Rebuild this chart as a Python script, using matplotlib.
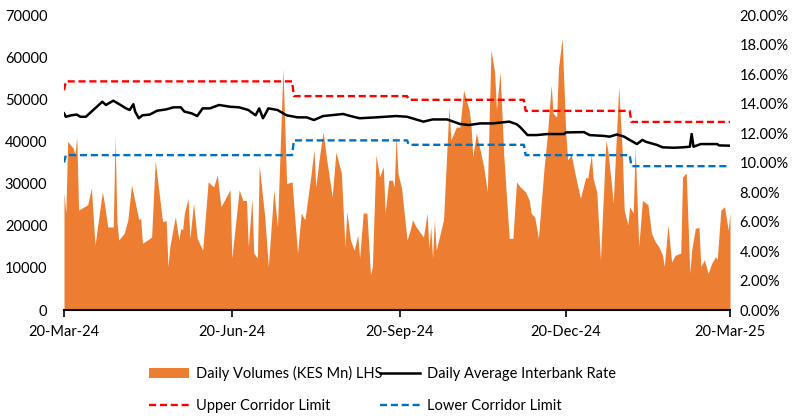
import matplotlib
matplotlib.use("Agg")
import matplotlib.pyplot as plt
import matplotlib.dates as mdates
from matplotlib.ticker import FuncFormatter
import pandas as pd

plt.rcParams['font.family'] = ['Lato', 'DejaVu Sans']

start = pd.Timestamp('2024-03-20')

# daily volumes (KES Mn), day offsets from 20-Mar-24
vol_days = [0, 1, 2, 5, 6, 7, 8, 13, 15, 17, 21, 22, 24, 27, 28, 29, 30, 33, 35, 37,
            41, 42, 43, 48, 50, 54, 56, 57, 58, 61, 63, 64, 65, 66, 68, 69, 71, 73, 76, 79,
            82, 84, 86, 91, 92, 96, 98, 100, 101, 103, 104, 106, 107, 110, 112, 115, 117, 120, 122, 125,
            126, 128, 130, 132, 135, 137, 138, 140, 142, 144, 147, 149, 152, 154, 155, 157, 159, 161, 162, 164,
            166, 168, 169, 171, 173, 175, 176, 178, 180, 181, 182, 183, 185, 188, 190, 191, 193, 197, 199, 200,
            201, 202, 203, 204, 208, 211, 212, 215, 217, 219, 222, 223, 224, 226, 228, 230, 232, 234, 236, 237,
            239, 241, 244, 246, 248, 250, 253, 255, 256, 258, 260, 263, 265, 267, 268, 270, 271, 273, 275, 276,
            278, 280, 283, 286, 287, 289, 290, 292, 294, 295, 297, 298, 300, 301, 304, 306, 307, 309, 310, 312,
            313, 315, 317, 320, 322, 324, 326, 328, 329, 331, 333, 335, 338, 339, 341, 343, 344, 346, 348, 349,
            351, 353, 355, 357, 358, 360, 362, 364, 365]
volumes = [27700, 23000, 40000, 38400, 37000, 41000, 23700, 25000, 29000, 15400, 28000, 25700, 19700, 19700, 41300, 21000, 16600, 18200, 21400, 29700,
           21400, 21800, 15800, 17300, 35400, 21000, 21200, 10300, 15000, 22100, 16600, 19400, 19000, 23000, 26500, 17000, 25300, 17000, 14200, 30400,
           29200, 32000, 24500, 28500, 12300, 28500, 26000, 26000, 15000, 26500, 13500, 12300, 34400, 22100, 10300, 28500, 19700, 57300, 30000, 30400,
           24500, 13500, 23000, 21400, 30800, 38000, 29200, 36300, 42300, 35600, 26800, 37500, 32500, 15000, 23300, 16600, 14200, 17800, 12300, 23000,
           23000, 8300, 10300, 36800, 31600, 34000, 23000, 30800, 30800, 29200, 41500, 32500, 28900, 16600, 19400, 21400, 19700, 17300, 23000, 14700,
           19700, 12300, 21400, 14200, 21400, 48200, 40300, 43400, 43400, 52200, 47500, 44300, 36300, 42000, 38000, 34000, 28000, 61700, 56500, 47500,
           56500, 36800, 17000, 17000, 30400, 29200, 28000, 26000, 23000, 22000, 17000, 33200, 42000, 53400, 46700, 45800, 57400, 64500, 42000, 35600,
           36800, 32500, 26500, 31600, 31200, 36800, 31200, 28000, 11900, 21400, 40300, 38000, 30000, 25300, 53000, 37100, 23700, 20200, 24500, 23000,
           38700, 15000, 26000, 25000, 18200, 16200, 15000, 13000, 10300, 20200, 11400, 13000, 13500, 31600, 32500, 8700, 14200, 19400, 19600, 10300,
           11900, 8700, 11100, 12600, 12000, 23700, 24500, 19000, 23000]

# daily average interbank rate (%)
rate_days = [0, 1, 4, 7, 9, 12, 14, 18, 21, 23, 27, 31, 34, 36, 38, 39, 41, 43, 47, 51,
             56, 60, 64, 66, 70, 73, 76, 80, 85, 91, 96, 101, 105, 107, 109, 110, 112, 117, 122, 128,
             133, 137, 142, 153, 157, 162, 171, 182, 188, 197, 202, 210, 217, 222, 228, 235, 244, 248, 250, 254,
             259, 265, 274, 275, 285, 288, 296, 299, 303, 307, 310, 314, 317, 319, 325, 328, 334, 339, 343, 344,
             345, 349, 358, 359, 365]
rate = [13.33, 13.1, 13.2, 13.25, 13.1, 13.1, 13.33, 13.78, 14.12, 13.9, 14.19, 13.9, 13.67, 13.56, 13.95, 13.45, 13.0, 13.2, 13.25, 13.51,
        13.6, 13.74, 13.74, 13.45, 13.33, 13.15, 13.67, 13.67, 13.9, 13.78, 13.74, 13.56, 13.2, 13.67, 13.0, 13.2, 13.67, 13.56, 13.2, 13.06,
        13.06, 12.88, 13.15, 13.29, 13.15, 13.0, 13.06, 13.15, 13.1, 12.77, 12.92, 12.92, 12.61, 12.54, 12.65, 12.65, 12.77, 12.6, 12.4, 11.86,
        11.86, 11.93, 11.93, 12.04, 12.06, 11.86, 11.8, 11.75, 11.9, 11.75, 11.53, 11.25, 11.53, 11.4, 11.19, 11.03, 11.0, 11.03, 11.07, 11.93,
        11.07, 11.25, 11.25, 11.16, 11.14]

# corridor limits (%)
corr_days = [0, 1, 125, 126, 188, 189, 252, 253, 310, 311, 365]
upper = [14.9, 15.5, 15.5, 14.5, 14.5, 14.25, 14.25, 13.5, 13.5, 12.75, 12.75]
lower = [10.0, 10.5, 10.5, 11.5, 11.5, 11.2, 11.2, 10.5, 10.5, 9.75, 9.75]

xticks = ['2024-03-20', '2024-06-20', '2024-09-20', '2024-12-20', '2025-03-20']

vol_dates = start + pd.to_timedelta(vol_days, unit='D')
rate_dates = start + pd.to_timedelta(rate_days, unit='D')
corr_dates = start + pd.to_timedelta(corr_days, unit='D')

fig = plt.figure(figsize=(7.94, 4.19), dpi=100)
ax = fig.add_axes([64 / 794, 1 - 310 / 419, 666 / 794, 295 / 419])
ax2 = ax.twinx()

area = ax.fill_between(vol_dates, volumes, color='#ED7D31', linewidth=0,
                       label='Daily Volumes (KES Mn) LHS')
l1, = ax2.plot(rate_dates, [r / 100 for r in rate], color='black', lw=1.8,
               label='Daily Average Interbank Rate')
l2, = ax2.plot(corr_dates, [u / 100 for u in upper], color='#FF0000', lw=1.7,
               dashes=(3, 1.6), label='Upper Corridor Limit')
l3, = ax2.plot(corr_dates, [v / 100 for v in lower], color='#0070C0', lw=1.7,
               dashes=(3, 1.6), label='Lower Corridor Limit')

ax.set_xlim(pd.Timestamp(xticks[0]), pd.Timestamp(xticks[-1]))
ax.set_ylim(0, 70000)
ax.set_yticks(range(0, 70001, 10000))
ax2.set_ylim(0, 0.20)
ax2.set_yticks([i / 100 for i in range(0, 21, 2)])
ax2.yaxis.set_major_formatter(FuncFormatter(lambda v, p: f'{v * 100:.2f}%'))

ax.set_xticks([pd.Timestamp(t) for t in xticks])
ax.xaxis.set_major_formatter(mdates.DateFormatter('%d-%b-%y'))

for a in (ax, ax2):
    for s in ('top', 'left', 'right', 'bottom'):
        a.spines[s].set_visible(False)
ax.spines['bottom'].set_visible(True)
ax.spines['bottom'].set_linewidth(1.5)
ax.tick_params(axis='x', length=5, width=1.2, labelsize=10.5, pad=6)
ax.tick_params(axis='y', length=0, labelsize=10.5, pad=12)
ax2.tick_params(axis='y', length=0, labelsize=10.5, pad=7)

fig.legend([area, l2, l1, l3],
           ['Daily Volumes (KES Mn) LHS', 'Upper Corridor Limit',
            'Daily Average Interbank Rate', 'Lower Corridor Limit'],
           ncol=2, loc='upper left', bbox_to_anchor=(142 / 794, 1 - 359 / 419),
           frameon=False, fontsize=10.5, handlelength=2.75, handletextpad=0.45,
           columnspacing=-0.15, labelspacing=1.2, borderpad=0)

fig.savefig('out.png', dpi=100)
